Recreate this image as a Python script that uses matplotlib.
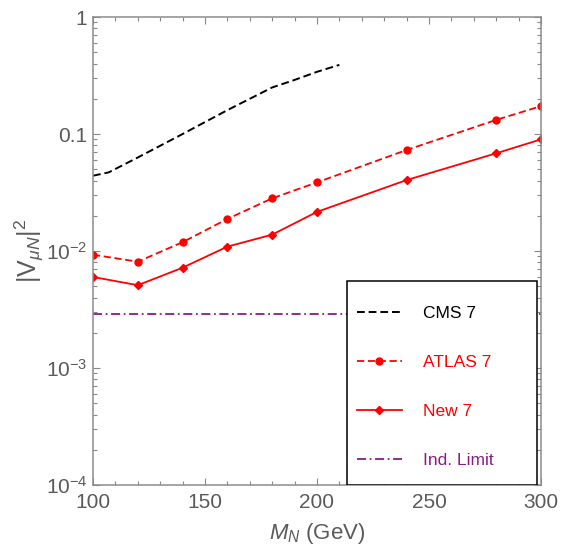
import numpy as np
import matplotlib
matplotlib.use("Agg")
import matplotlib.pyplot as plt
import matplotlib.ticker as ticker
from matplotlib.patches import Rectangle

plt.rcParams['font.family'] = ['Liberation Sans', 'DejaVu Sans']
plt.rcParams['mathtext.fontset'] = 'custom'
plt.rcParams['mathtext.rm'] = 'Liberation Sans'
plt.rcParams['mathtext.it'] = 'Liberation Sans:italic'

# data
cms_mass = [100, 107, 120, 140, 160, 170, 180, 190, 200, 210]
cms_v2 = [0.044, 0.047, 0.063, 0.10, 0.16, 0.20, 0.25, 0.29, 0.34, 0.39]

atlas_mass = [100, 120, 140, 160, 180, 200, 240, 280, 300]
atlas_v2 = [0.0093, 0.0081, 0.0119, 0.0188, 0.0282, 0.0386, 0.073, 0.132, 0.173]

new_mass = [100, 120, 140, 160, 180, 200, 240, 280, 300]
new_v2 = [0.0060, 0.0051, 0.0072, 0.0109, 0.0138, 0.0216, 0.0404, 0.0684, 0.090]

ind_mass = [100, 300]
ind_v2 = [0.0029, 0.0029]

ytick_vals = [1e-4, 1e-3, 1e-2, 0.1, 1]
ytick_labels = [r'$10^{-4}$', r'$10^{-3}$', r'$10^{-2}$', '0.1', '1']
xtick_vals = [100, 150, 200, 250, 300]

grey = '#5a5a5a'
red = '#ff0000'
purple = '#8a1a8a'

fig = plt.figure(figsize=(5.61, 5.49), dpi=100)
ax = fig.add_axes([0.1658, 0.1166, 0.7985, 0.8524])

l_cms, = ax.plot(cms_mass, cms_v2, color='black', lw=1.4, dashes=(4, 2),
                 label='CMS 7', zorder=2)
l_atlas, = ax.plot(atlas_mass, atlas_v2, color=red, lw=1.3, dashes=(4, 2),
                   marker='o', ms=5, label='ATLAS 7', zorder=2)
l_new, = ax.plot(new_mass, new_v2, color=red, lw=1.3, marker='D', ms=3.6,
                 label='New 7', zorder=2)
l_ind, = ax.plot(ind_mass, ind_v2, color=purple, lw=1.3, dashes=(5, 2, 1, 2),
                 label='Ind. Limit', zorder=2)

ax.set_yscale('log')
ax.set_xlim(100, 300)
ax.set_ylim(1e-4, 1)
ax.set_yticks(ytick_vals)
ax.set_yticklabels(ytick_labels)
ax.yaxis.set_minor_locator(ticker.LogLocator(base=10, subs=np.arange(2, 10)))
ax.yaxis.set_minor_formatter(ticker.NullFormatter())
ax.set_xticks(xtick_vals)
ax.xaxis.set_minor_locator(ticker.MultipleLocator(10))

ax.tick_params(which='both', direction='in', top=True, right=True,
               color='#888888', labelcolor=grey, labelsize=15)
ax.tick_params(which='major', length=5, width=0.8)
ax.tick_params(which='minor', length=3, width=0.8)
ax.tick_params(axis='x', pad=6)
ax.tick_params(axis='y', pad=4)
for s in ax.spines.values():
    s.set_color('#8c8c8c')
    s.set_linewidth(1.1)

ax.set_xlabel(r'$\mathit{M}_{\mathit{N}}$ (GeV)', fontsize=16, color=grey, labelpad=6)
ax.set_ylabel(r'$|\mathrm{V}_{\mu N}|^2$', fontsize=18, color=grey, labelpad=0)

# legend box
ax.add_patch(Rectangle((0.567, 0.0), 0.424, 0.436, transform=ax.transAxes,
                       facecolor='white', edgecolor='black', lw=1.1, zorder=3))
leg = ax.legend(handles=[l_cms, l_atlas, l_new, l_ind], loc='upper left',
                bbox_to_anchor=(0.589, 0.383), frameon=False, fontsize=12.5,
                borderpad=0, borderaxespad=0, labelspacing=1.95,
                handlelength=2.6, handletextpad=1.2, numpoints=1)
leg.set_zorder(4)
for txt, c in zip(leg.get_texts(), ['black', red, red, purple]):
    txt.set_color(c)

fig.savefig('out.png', dpi=100)
